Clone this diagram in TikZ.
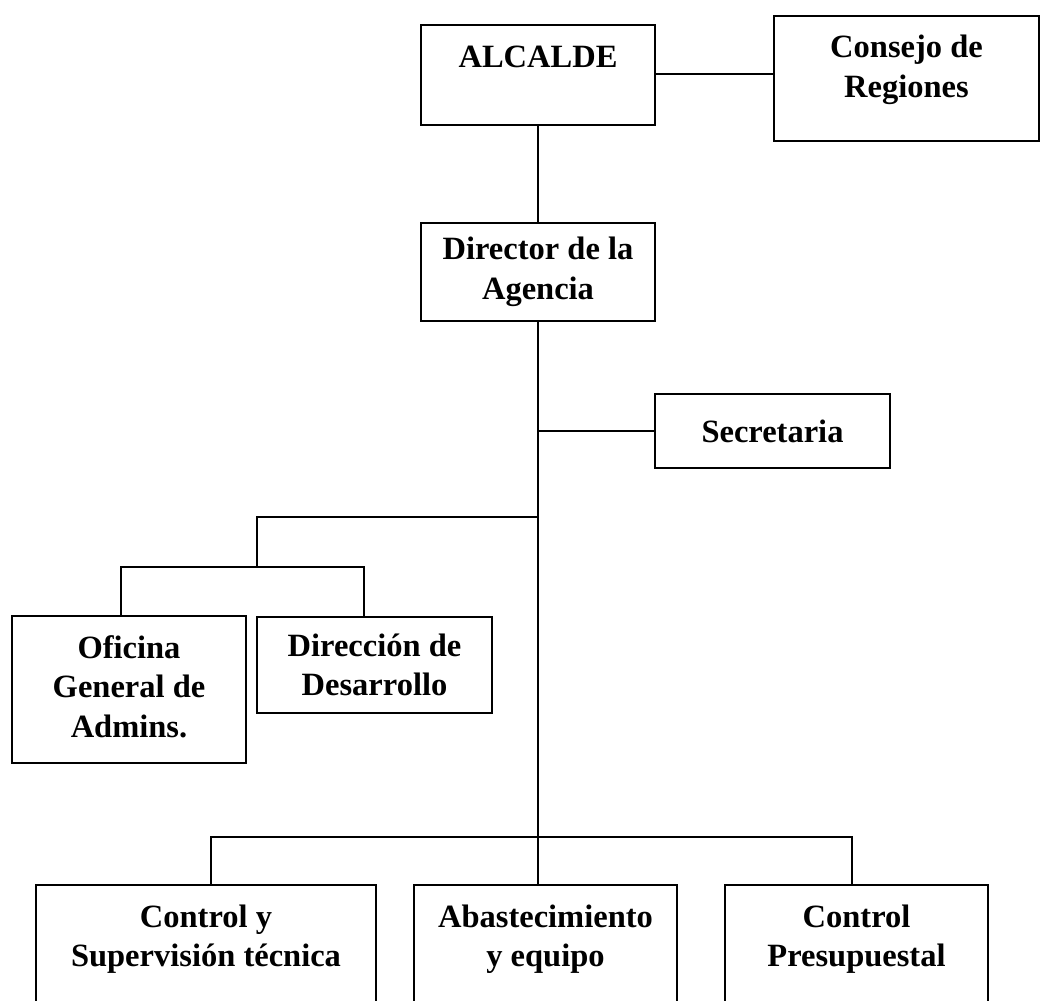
\documentclass[tikz,border=0pt]{standalone}
\usepackage{fontspec}
\setmainfont{Liberation Serif}

% text of one unit: [inner position]{width}{height}{lines}
\newcommand{\unittext}[4][c]{\parbox[c][#3pt][#1]{#2pt}{\centering #4}}

\tikzset{
  unit/.style={draw=black, line width=2.7pt, inner sep=0pt, fill=white,
    font=\fontsize{32.5}{39.5}\selectfont\bfseries},
  link/.style={draw=black, line width=2.6pt},
}

\begin{document}
\begin{tikzpicture}[x=1pt, y=-1pt]
    \useasboundingbox[fill=white] (0, 0) rectangle (1040, 1000);
    % top level
    \node[unit] (alcalde) at (538, 75) {\unittext[t]{234}{100}{\rule{0pt}{43pt}ALCALDE}};
    \node[unit] (consejo) at (906.5, 78.5) {\unittext[t]{265}{125}{\rule{0pt}{42pt}Consejo de\\Regiones}};
    \node[unit] (director) at (538, 272) {\unittext{234}{98}{Director de la\\Agencia}};
    \node[unit] (secretaria) at (772.5, 431) {\unittext{235}{74}{Secretaria}};
    % left branch
    \node[unit] (oficina) at (129, 689.5) {\unittext[t]{234}{147}{\rule{0pt}{42pt}Oficina\\General de\\Admins.}};
    \node[unit] (direccion) at (374.5, 665) {\unittext{235}{96}{Dirección de\\Desarrollo}};
    % bottom row
    \node[unit] (ctrlsup) at (206, 950) {\unittext[t]{340}{130}{\rule{0pt}{42pt}Control y\\Supervisión técnica}};
    \node[unit] (abast) at (545.5, 950) {\unittext[t]{263}{130}{\rule{0pt}{42pt}Abastecimiento\\y equipo}};
    \node[unit] (presup) at (856.5, 950) {\unittext[t]{263}{130}{\rule{0pt}{42pt}Control\\Presupuestal}};

    \coordinate (leftfork) at (257, 517);
    \coordinate (leftsplit) at (257, 567);
    \coordinate (busjoint) at (538, 837);

    \path[link] (alcalde.south) -- (director.north);
    \path[link] ([yshift=1pt]alcalde.east) -- ([yshift=1pt]alcalde.east -| consejo.west);
    % trunk
    \path[link] (director.south) -- (director.south |- abast.north);
    \path[link] (director.south |- secretaria.west) -- (secretaria.west);
    % wires for left branch
    \path[link] (director.south |- leftfork) -- (leftfork) -- (leftsplit);
    \path[link] ([xshift=-8pt]oficina.north) |- (leftsplit) -| ([xshift=-10.5pt]direccion.north);
    % wires for bottom row
    \path[link] ([xshift=5pt]ctrlsup.north) |- (busjoint) -| ([xshift=-4.5pt]presup.north);
\end{tikzpicture}
\end{document}
